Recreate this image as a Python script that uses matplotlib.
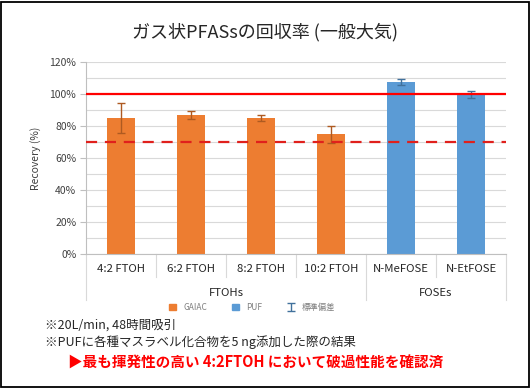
import matplotlib

matplotlib.use("Agg")
import matplotlib.pyplot as plt
from matplotlib.patches import Patch, Rectangle
from matplotlib.transforms import blended_transform_factory

plt.rcParams["font.family"] = ["Noto Sans CJK JP", "DejaVu Sans"]

# data
compounds = ["4:2 FTOH", "6:2 FTOH", "8:2 FTOH", "10:2 FTOH", "N-MeFOSE", "N-EtFOSE"]
recovery = [85, 87, 85, 75, 107.5, 99.5]
std_dev = [9.5, 2.5, 2.0, 5.3, 2.0, 2.2]
sampler = ["GAIAC", "GAIAC", "GAIAC", "GAIAC", "PUF", "PUF"]
groups = ["FTOHs", "FOSEs"]
group_spans = [(0, 3), (4, 5)]
ref_solid = 100
ref_dashed = 70
yticks = [0, 20, 40, 60, 80, 100, 120]

colors = {"GAIAC": "#ED7D31", "PUF": "#5B9BD5"}
err_colors = {"GAIAC": "#AE5A21", "PUF": "#41719C"}

fig = plt.figure(figsize=(5.31, 3.88), dpi=100)
fig.patches.append(Rectangle((0.002, 0.002), 0.994, 0.994, transform=fig.transFigure,
                             fill=False, edgecolor="black", linewidth=1.3))

ax = fig.add_axes([0.162, 0.345, 0.791, 0.495])
for i, (v, s, kind) in enumerate(zip(recovery, std_dev, sampler)):
    ax.bar(i, v, width=0.4, color=colors[kind], zorder=2)
    eb = ax.errorbar(i, v, yerr=s, fmt="none", ecolor=err_colors[kind],
                     elinewidth=1.0, capsize=3, capthick=1.0, zorder=3)

ax.axhline(ref_solid, color="#FF0000", linewidth=1.6, zorder=4)
ax.axhline(ref_dashed, color="#E0201C", linewidth=1.6, linestyle=(0, (5, 3.5)), zorder=4)

ax.set_ylim(0, 120)
ax.set_xlim(-0.5, len(compounds) - 0.5)
ax.set_yticks(yticks)
ax.set_yticklabels([f"{t}%" for t in yticks], fontsize=7.5, color="#404040")
ax.set_yticks(range(0, 121, 10), minor=True)
ax.yaxis.grid(True, which="both", color="#D9D9D9", linewidth=0.8, zorder=0)
ax.tick_params(axis="y", which="major", length=4, color="#BFBFBF", pad=3)
ax.tick_params(axis="y", which="minor", length=0)
ax.set_xticks([])
ax.set_ylabel("Recovery (%)", fontsize=7.5, color="#404040", labelpad=6)
for side in ["top", "right"]:
    ax.spines[side].set_visible(False)
ax.spines["left"].set_color("#BFBFBF")
ax.spines["bottom"].set_color("#BFBFBF")
ax.set_axisbelow(True)

# two-level category axis
tr = blended_transform_factory(ax.transData, ax.transAxes)
for i, name in enumerate(compounds):
    ax.text(i, -0.075, name, transform=tr, ha="center", va="center",
            fontsize=8.2, color="#262626")
bounds = [k - 0.5 for k in range(len(compounds) + 1)]
long_bounds = [group_spans[0][0] - 0.5, group_spans[1][0] - 0.5, group_spans[1][1] + 0.5]
for b in bounds:
    low = -0.24 if b in long_bounds else -0.12
    ax.plot([b, b], [0, low], transform=tr, color="#D9D9D9", linewidth=0.8, clip_on=False)
for name, (a, b) in zip(groups, group_spans):
    ax.text((a + b) / 2, -0.2, name, transform=tr, ha="center", va="center",
            fontsize=8.2, color="#262626")

handles = [Patch(color=colors["GAIAC"]), Patch(color=colors["PUF"]), eb]
leg = fig.legend(handles, ["GAIAC", "PUF", "標準偏差"], loc="center",
                 bbox_to_anchor=(0.475, 0.208), ncol=3, frameon=False, fontsize=6,
                 handlelength=0.8, handleheight=0.8, columnspacing=3.0, handletextpad=0.9)
for t in leg.get_texts():
    t.set_color("#7F7F7F")

fig.text(0.5, 0.918, "ガス状PFASsの回収率 (一般大気)", ha="center", va="center",
         fontsize=13, color="#262626")
fig.text(0.085, 0.162, "※20L/min, 48時間吸引", ha="left", va="center",
         fontsize=9, color="#262626")
fig.text(0.085, 0.118, "※PUFに各種マスラベル化合物を5 ng添加した際の結果", ha="left",
         va="center", fontsize=9, color="#262626")
fig.text(0.128, 0.065, "▶最も揮発性の高い 4:2FTOH において破過性能を確認済", ha="left",
         va="center", fontsize=10.5, color="#FF0000", fontweight="bold")

fig.savefig("out.png", dpi=100)
